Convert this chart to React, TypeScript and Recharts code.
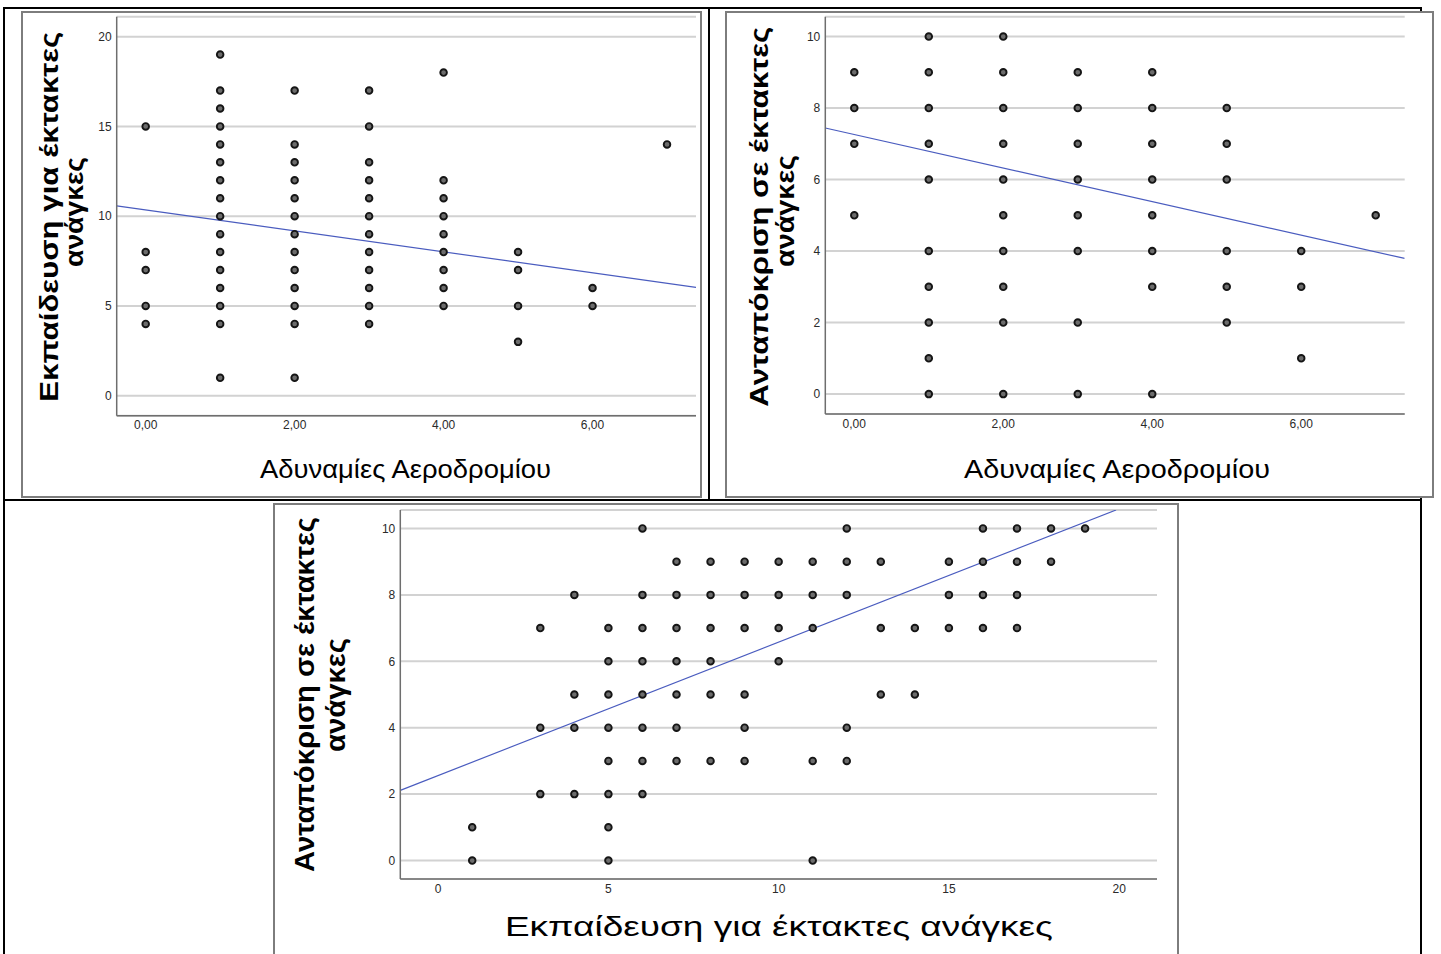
import React from 'react';
import { ScatterChart, Scatter, XAxis, YAxis, CartesianGrid, ReferenceLine } from 'recharts';

// ---------- DATA ----------
// Chart 1: x = Αδυναμίες Αεροδρομίου, y = Εκπαίδευση για έκτακτες ανάγκες
const c1Columns = [0, 1, 2, 3, 4, 5, 6, 7];
const c1Values = [
  [15, 8, 7, 5, 4],
  [19, 17, 16, 15, 14, 13, 12, 11, 10, 9, 8, 7, 6, 5, 4, 1],
  [17, 14, 13, 12, 11, 10, 9, 8, 7, 6, 5, 4, 1],
  [17, 15, 13, 12, 11, 10, 9, 8, 7, 6, 5, 4],
  [18, 12, 11, 10, 9, 8, 7, 6, 5],
  [8, 7, 5, 3],
  [6, 5],
  [14],
];
const c1Fit = { intercept: 10.35, slope: -0.584 };
const c1XTicks = [0, 2, 4, 6];
const c1YTicks = [0, 5, 10, 15, 20];

// Chart 2: x = Αδυναμίες Αεροδρομίου, y = Ανταπόκριση σε έκτακτες ανάγκες
const c2Columns = [0, 1, 2, 3, 4, 5, 6, 7];
const c2Values = [
  [9, 8, 7, 5],
  [10, 9, 8, 7, 6, 4, 3, 2, 1, 0],
  [10, 9, 8, 7, 6, 5, 4, 3, 2, 0],
  [9, 8, 7, 6, 5, 4, 2, 0],
  [9, 8, 7, 6, 5, 4, 3, 0],
  [8, 7, 6, 4, 3, 2],
  [4, 3, 1],
  [5],
];
const c2Fit = { intercept: 7.26, slope: -0.469 };
const c2XTicks = [0, 2, 4, 6];
const c2YTicks = [0, 2, 4, 6, 8, 10];

// Chart 3: x = Εκπαίδευση για έκτακτες ανάγκες, y = Ανταπόκριση σε έκτακτες ανάγκες
const c3Rows = [10, 9, 8, 7, 6, 5, 4, 3, 2, 1, 0];
const c3RowX = [
  [6, 12, 16, 17, 18, 19],
  [7, 8, 9, 10, 11, 12, 13, 15, 16, 17, 18],
  [4, 6, 7, 8, 9, 10, 11, 12, 15, 16, 17],
  [3, 5, 6, 7, 8, 9, 10, 11, 13, 14, 15, 16, 17],
  [5, 6, 7, 8, 10],
  [4, 5, 6, 7, 8, 9, 13, 14],
  [3, 4, 5, 6, 7, 9, 12],
  [5, 6, 7, 8, 9, 11, 12],
  [3, 4, 5, 6],
  [1, 5],
  [1, 5, 11],
];
const c3Fit = { intercept: 2.56, slope: 0.4016 };
const c3XTicks = [0, 5, 10, 15, 20];
const c3YTicks = [0, 2, 4, 6, 8, 10];

const titleWeakness = 'Αδυναμίες Αεροδρομίου';
const titleTrainingL1 = 'Εκπαίδευση για έκτακτες';
const titleTrainingFull = 'Εκπαίδευση για έκτακτες ανάγκες';
const titleResponseL1 = 'Ανταπόκριση σε έκτακτες';
const titleL2 = 'ανάγκες';

// ---------- helpers ----------
const fromColumns = (cols: number[], vals: number[][]) =>
  cols.flatMap((x, i) => vals[i].map((y) => ({ x, y })));
const fromRows = (rows: number[], xs: number[][]) =>
  rows.flatMap((y, i) => xs[i].map((x) => ({ x, y })));

const pad = (min: number, max: number): [number, number] => {
  const p = (max - min) * 0.0556;
  return [min - p, max + p];
};

const fitSegment = (fit: { intercept: number; slope: number }, xd: [number, number], yd: [number, number]) => {
  const f = (x: number) => fit.intercept + fit.slope * x;
  let x0 = xd[0];
  let x1 = xd[1];
  if (f(x1) > yd[1]) x1 = (yd[1] - fit.intercept) / fit.slope;
  if (f(x0) < yd[0]) x0 = (yd[0] - fit.intercept) / fit.slope;
  return [
    { x: x0, y: f(x0) },
    { x: x1, y: f(x1) },
  ];
};

const Dot = (props: any) => (
  <circle cx={props.cx} cy={props.cy} r={3.3} fill="#6c6c6c" stroke="#151515" strokeWidth={1.9} />
);

const tickFont = { fontSize: 12, fill: '#2a2a2a', fontFamily: "'Liberation Sans Narrow', 'Liberation Sans', Arial, sans-serif" };
const titleFont = "'Liberation Sans', Arial, sans-serif";

type PanelProps = {
  left: number; top: number; width: number; height: number;
  margin: { top: number; right: number; bottom: number; left: number };
  data: { x: number; y: number }[];
  xDomain: [number, number]; yDomain: [number, number];
  xTicks: number[]; yTicks: number[];
  xFmt?: (v: number) => string;
  fit: { intercept: number; slope: number };
  yTitle1: string; yTitle2: string; xTitle: string;
  yT1: { x: number; y: number; len: number }; yT2: { x: number; y: number; len: number };
  xT: { x: number; y: number; len: number };
  yFontSize: number; xFontSize: number;
};

const Panel = (p: PanelProps) => {
  const seg = fitSegment(p.fit, p.xDomain, p.yDomain);
  return (
    <div style={{ position: 'absolute', left: p.left, top: p.top, width: p.width, height: p.height, background: '#fff' }}>
      <ScatterChart width={p.width} height={p.height} margin={p.margin}>
        <CartesianGrid vertical={false} stroke="#d2d2d2" strokeWidth={2} />
        <XAxis
          type="number" dataKey="x" domain={p.xDomain} ticks={p.xTicks} allowDataOverflow
          tickFormatter={p.xFmt} tickLine={false} tickSize={3} tickMargin={2} height={20}
          axisLine={{ stroke: '#6e6e6e', strokeWidth: 1.5 }} tick={tickFont} interval={0}
        />
        <YAxis
          type="number" dataKey="y" domain={p.yDomain} ticks={p.yTicks} allowDataOverflow
          tickLine={false} tickSize={3} tickMargin={2} width={30}
          axisLine={{ stroke: '#6e6e6e', strokeWidth: 1.5 }} tick={tickFont} interval={0}
        />
        <ReferenceLine segment={seg} stroke="#4a5cbf" strokeWidth={1.2} ifOverflow="hidden" />
        <Scatter data={p.data} shape={Dot} isAnimationActive={false} />
      </ScatterChart>
      <svg width={p.width} height={p.height} style={{ position: 'absolute', left: 0, top: 0, pointerEvents: 'none' }}>
        <text
          transform={`translate(${p.yT1.x},${p.yT1.y}) rotate(-90)`} textAnchor="middle"
          textLength={p.yT1.len} lengthAdjust="spacingAndGlyphs"
          fontFamily={titleFont} fontWeight="bold" fontSize={p.yFontSize} fill="#000"
        >{p.yTitle1}</text>
        <text
          transform={`translate(${p.yT2.x},${p.yT2.y}) rotate(-90)`} textAnchor="middle"
          textLength={p.yT2.len} lengthAdjust="spacingAndGlyphs"
          fontFamily={titleFont} fontWeight="bold" fontSize={p.yFontSize} fill="#000"
        >{p.yTitle2}</text>
        <text
          x={p.xT.x} y={p.xT.y} textAnchor="middle"
          textLength={p.xT.len} lengthAdjust="spacingAndGlyphs"
          fontFamily={titleFont} fontSize={p.xFontSize} fill="#000"
        >{p.xTitle}</text>
      </svg>
      <div style={{ position: 'absolute', left: 0, top: 0, width: p.width, height: p.height, border: '2px solid #7d7d7d', boxSizing: 'border-box', pointerEvents: 'none' }} />
    </div>
  );
};

const fmtComma = (v: number) => v.toFixed(2).replace('.', ',');

const Line = ({ l, t, w, h }: { l: number; t: number; w: number; h: number }) => (
  <div style={{ position: 'absolute', left: l, top: t, width: w, height: h, background: '#000' }} />
);

export default function App() {
  const d1 = fromColumns(c1Columns, c1Values);
  const d2 = fromColumns(c2Columns, c2Values);
  const d3 = fromRows(c3Rows, c3RowX);
  return (
    <div style={{ position: 'absolute', left: 0, top: 0, width: 1441, height: 954, overflow: 'hidden', background: '#fff' }}>
      {/* table borders */}
      <Line l={3} t={7} w={1419} h={2} />
      <Line l={3} t={7} w={2} h={947} />
      <Line l={708} t={7} w={2} h={494} />
      <Line l={3} t={499} w={1419} h={2} />
      <Line l={1420} t={7} w={2} h={947} />

      <Panel
        left={21} top={11} width={681} height={487}
        margin={{ top: 5.7, right: 6, bottom: 62.3, left: 65.7 }}
        data={d1} xDomain={pad(0, 7)} yDomain={pad(0, 20)} xTicks={c1XTicks} yTicks={c1YTicks} xFmt={fmtComma}
        fit={c1Fit}
        yTitle1={titleTrainingL1} yTitle2={titleL2} xTitle={titleWeakness}
        yT1={{ x: 37, y: 205.7, len: 370 }} yT2={{ x: 62, y: 201, len: 110 }} xT={{ x: 384.5, y: 467, len: 291 }}
        yFontSize={25} xFontSize={26}
      />
      <Panel
        left={725} top={11} width={709} height={487}
        margin={{ top: 5.7, right: 29.3, bottom: 64, left: 70.3 }}
        data={d2} xDomain={pad(0, 7)} yDomain={pad(0, 10)} xTicks={c2XTicks} yTicks={c2YTicks} xFmt={fmtComma}
        fit={c2Fit}
        yTitle1={titleResponseL1} yTitle2={titleL2} xTitle={titleWeakness}
        yT1={{ x: 43, y: 205.7, len: 380 }} yT2={{ x: 69, y: 200, len: 112 }} xT={{ x: 392, y: 467, len: 306 }}
        yFontSize={25} xFontSize={26}
      />
      <Panel
        left={273} top={503} width={906} height={470}
        margin={{ top: 7, right: 22, bottom: 74, left: 97.3 }}
        data={d3} xDomain={pad(0, 20)} yDomain={pad(0, 10)} xTicks={c3XTicks} yTicks={c3YTicks}
        fit={c3Fit}
        yTitle1={titleResponseL1} yTitle2={titleL2} xTitle={titleTrainingFull}
        yT1={{ x: 41, y: 191.5, len: 355 }} yT2={{ x: 72, y: 192, len: 114 }} xT={{ x: 505.9, y: 433, len: 548 }}
        yFontSize={28} xFontSize={27}
      />
    </div>
  );
}
